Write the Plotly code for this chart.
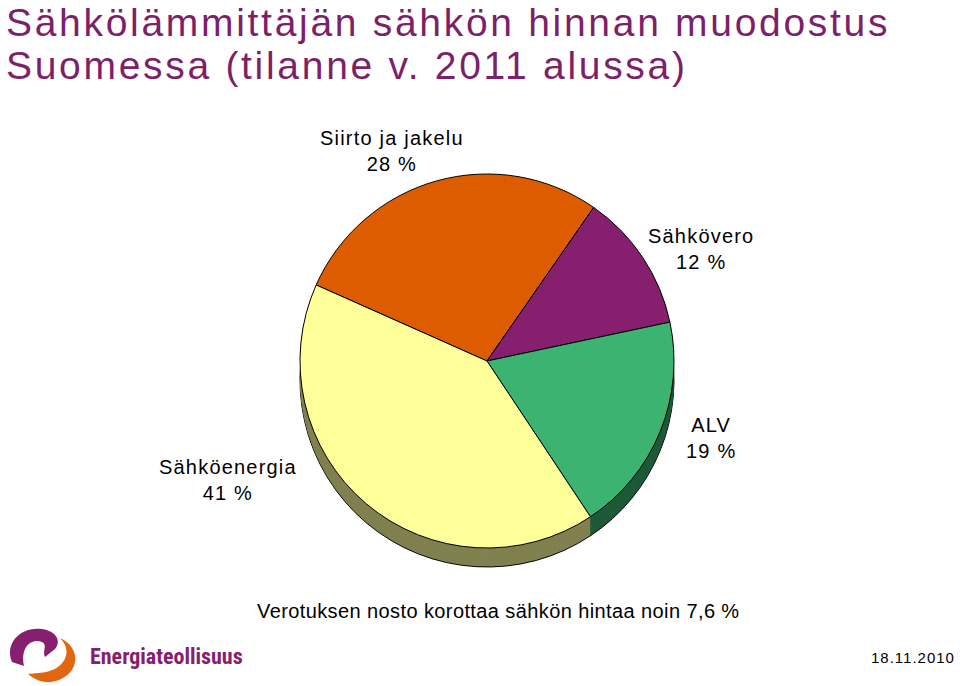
import plotly.graph_objects as go

labels = ["Siirto ja jakelu", "Sähkövero", "ALV", "Sähköenergia"]
values = [28, 12, 19, 41]
top_colors = ["#DE5C00", "#86206E", "#3CB371", "#FFFF99"]
side_colors = ["#6F2E00", "#431037", "#1E5A38", "#808050"]
label_text = ["Siirto ja jakelu<br>28 %", "Sähkövero<br>12 %", "ALV<br>19 %", "Sähköenergia<br>41 %"]
label_pos = [(392, 151), (701, 249), (711, 438), (228, 480)]

title_lines = ["Sähkölämmittäjän sähkön hinnan muodostus", "Suomessa (tilanne v. 2011 alussa)"]
footer_note = "Verotuksen nosto korottaa sähkön hintaa noin 7,6 %"
date_text = "18.11.2010"
brand = "Energiateollisuus"

W, H = 960, 686
cx, cy, R = 487, 361, 187
depth = 19
rotation = -66

def dom(dy=0):
    x0 = (cx - R) / W
    x1 = (cx + R) / W
    yc = (H - cy - dy) / H
    return dict(x=[x0, x1], y=[yc - R / H, yc + R / H])

def spaced(t, ls):
    return '<span style="letter-spacing:%spx">%s</span>' % (ls, t)

fig = go.Figure()
# 3D side built from stacked shadow pies
for d in range(depth, 0, -1):
    fig.add_trace(go.Pie(
        labels=labels, values=values, sort=False, direction="clockwise",
        rotation=rotation, textinfo="none", hoverinfo="skip", showlegend=False,
        marker=dict(colors=side_colors,
                    line=dict(color="#000000" if d == depth else "rgba(0,0,0,0)",
                              width=1 if d == depth else 0)),
        domain=dom(d),
    ))
fig.add_trace(go.Pie(
    labels=labels, values=values, sort=False, direction="clockwise",
    rotation=rotation, textinfo="none", showlegend=False,
    marker=dict(colors=top_colors, line=dict(color="#000000", width=1)),
    domain=dom(0),
))

ann = []
font_main = "Liberation Sans, Arial, sans-serif"
title_color = "#7E1F69"
ann.append(dict(x=4, y=22, text=spaced(title_lines[0], 2.7), xanchor="left", yanchor="middle",
                font=dict(family=font_main, size=39, color=title_color)))
ann.append(dict(x=4, y=65, text=spaced(title_lines[1], 2.7), xanchor="left", yanchor="middle",
                font=dict(family=font_main, size=39, color=title_color)))
for t, (x, y) in zip(label_text, label_pos):
    lines = t.split("<br>")
    txt = "<br>".join(spaced(s, 1.2) for s in lines)
    ann.append(dict(x=x, y=y, text=txt, xanchor="center", yanchor="middle",
                    font=dict(family=font_main, size=20, color="#000000")))
ann.append(dict(x=498, y=611, text=spaced(footer_note, 0.4), xanchor="center", yanchor="middle",
                font=dict(family=font_main, size=20, color="#000000")))
ann.append(dict(x=957, y=657, text=spaced(date_text, 1), xanchor="right", yanchor="middle",
                font=dict(family=font_main, size=15, color="#000000")))
ann.append(dict(x=88, y=656, text="<b>" + brand + "</b>", xanchor="left", yanchor="middle",
                font=dict(family="Roboto Condensed, Roboto, sans-serif", size=22, color="#86206E")))
for a in ann:
    a.update(xref="x", yref="y", showarrow=False)

shapes = [
    dict(type="path", xref="x", yref="y", fillcolor="#86206E", line=dict(width=0),
         path="M 12,662 C 4,642 22,626 42,629 C 56,631 62,641 55,649 L 45,657 "
              "C 42,651 48,645 42,642 C 32,638 20,646 24,666 Z"),
    dict(type="path", xref="x", yref="y", fillcolor="#E0670F", line=dict(width=0),
         path="M 60,638 C 82,648 80,674 56,681 C 46,684 36,681 28,674 "
              "C 42,673 56,672 63,662 C 69,654 67,645 60,638 Z"),
]

fig.update_layout(
    width=W, height=H, margin=dict(l=0, r=0, t=0, b=0),
    paper_bgcolor="white", plot_bgcolor="rgba(0,0,0,0)",
    xaxis=dict(range=[0, W], visible=False, domain=[0, 1], fixedrange=True),
    yaxis=dict(range=[H, 0], visible=False, domain=[0, 1], fixedrange=True),
    annotations=ann, shapes=shapes, showlegend=False,
)
fig.write_html("out.html", config={"displayModeBar": False},
               post_script="document.body.style.margin='0';document.body.style.overflow='hidden';")
